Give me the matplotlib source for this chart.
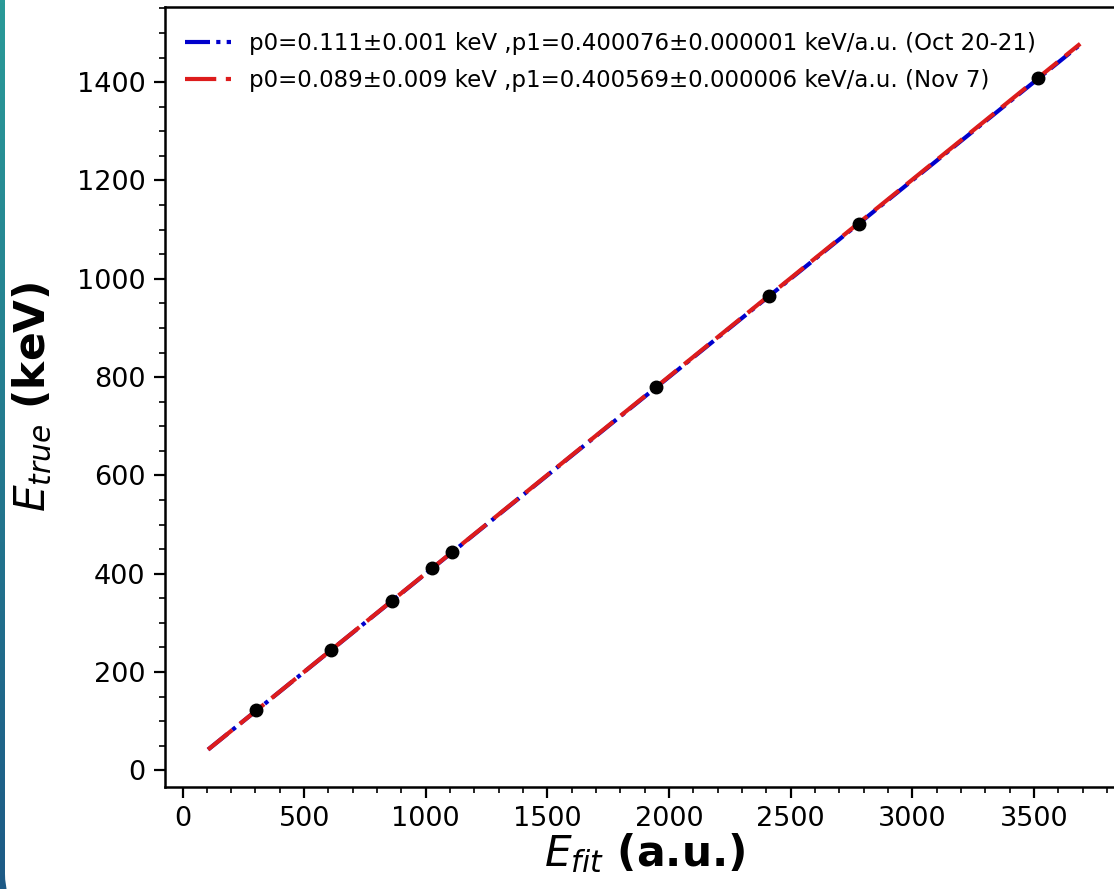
import numpy as np
import matplotlib
matplotlib.use("Agg")
import matplotlib.pyplot as plt
from matplotlib.patches import FancyBboxPatch
from matplotlib.ticker import MultipleLocator
from matplotlib.colors import LinearSegmentedColormap

# Calibration points (fitted ADC value vs true energy)
e_fit = [304, 611, 860, 1027, 1109, 1946, 2409, 2779, 3518]
e_true = [121.78, 244.70, 344.28, 411.12, 443.96, 778.90, 964.08, 1112.08, 1408.01]

# Fit parameters
p0_oct, p1_oct = 0.111, 0.400076
p0_nov, p1_nov = 0.089, 0.400569
fit_range = [105, 3690]

label_oct = "p0=0.111±0.001 keV ,p1=0.400076±0.000001 keV/a.u. (Oct 20-21)"
label_nov = "p0=0.089±0.009 keV ,p1=0.400569±0.000006 keV/a.u. (Nov 7)"

W, H = 1114, 889
fig = plt.figure(figsize=(W / 100, H / 100), dpi=100)

# slide background: teal/blue strip with white rounded panel
bg = fig.add_axes([0, 0, 1, 1], zorder=-10)
bg.set_xlim(0, W)
bg.set_ylim(0, H)
bg.axis("off")
grad = np.linspace(0, 1, 256).reshape(-1, 1)
cmap = LinearSegmentedColormap.from_list("bg", ["#1d5a86", "#2a9a98"])
bg.imshow(grad, extent=[0, 60, 0, H], origin="lower", cmap=cmap, aspect="auto")
bg.add_patch(FancyBboxPatch((5, -30), W + 100, H + 100,
                            boxstyle="round,pad=0,rounding_size=45",
                            facecolor="white", edgecolor="none"))

ax = fig.add_axes([165 / W, 102 / H, (1124 - 165) / W, (882 - 102) / H])
xf = np.array(fit_range, dtype=float)
ax.plot(xf, p0_oct + p1_oct * xf, color="#0000cc", lw=3.0,
        dashes=(6, 1.5, 1, 1.5), label=label_oct)
ax.plot(xf, p0_nov + p1_nov * xf, color="#dd1c1c", lw=3.0,
        dashes=(7.5, 2.3), label=label_nov)
ax.plot(e_fit, e_true, "o", color="black", ms=9)

ax.set_xlim(-72, 3870)
ax.set_ylim(-34, 1553)
ax.xaxis.set_major_locator(MultipleLocator(500))
ax.xaxis.set_minor_locator(MultipleLocator(100))
ax.yaxis.set_major_locator(MultipleLocator(200))
ax.yaxis.set_minor_locator(MultipleLocator(50))
ax.tick_params(which="major", length=8, width=1.6, labelsize=19.5, pad=6)
ax.tick_params(which="minor", length=4.5, width=1.2)
for s in ax.spines.values():
    s.set_linewidth(1.8)

ax.set_xlabel(r"$E_{fit}$ (a.u.)", fontsize=30.5, fontweight="bold", labelpad=-1)
ax.set_ylabel(r"$E_{true}$ (keV)", fontsize=30.5, fontweight="bold", labelpad=16)

ax.legend(loc="upper left", bbox_to_anchor=(-5 / 959, 1.0), fontsize=16.5,
          frameon=False, handlelength=2.0, handletextpad=0.8,
          borderaxespad=0.7, labelspacing=0.6)

fig.savefig("out.png", dpi=100)
